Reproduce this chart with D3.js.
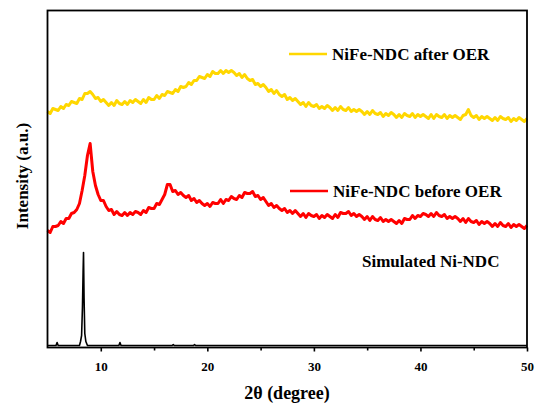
<!DOCTYPE html>
<html>
<head>
<meta charset="utf-8">
<script src="https://cdn.jsdelivr.net/npm/d3@7"></script>
<style>
  body { margin: 0; background: #fff; }
</style>
</head>
<body>
<div id="chart"></div>
<script>
// 2-theta grid of the measured patterns (degrees, 0.25 step)
var twoTheta = d3.range(0, 181).map(function (i) { return 5 + i * 0.25; });

// NiFe-NDC after OER (a.u.)
var afterOER = [236, 234, 239, 238, 237, 241, 239, 243, 242, 246,
    245, 244, 249, 248, 254, 254, 256, 253, 249, 250,
    246, 248, 245, 242, 245, 242, 247, 244, 243, 246,
    243, 247, 245, 248, 246, 244, 248, 245, 250, 248,
    248, 252, 249, 253, 252, 256, 255, 254, 258, 256,
    261, 260, 261, 265, 263, 267, 267, 271, 270, 269,
    273, 271, 276, 274, 274, 277, 274, 277, 275, 277,
    275, 272, 274, 270, 273, 269, 267, 268, 263, 264,
    261, 263, 260, 256, 258, 254, 257, 253, 251, 253,
    248, 250, 247, 249, 246, 243, 245, 241, 245, 242,
    241, 243, 239, 241, 239, 242, 240, 237, 240, 237,
    241, 238, 237, 240, 236, 238, 236, 238, 236, 233,
    236, 233, 237, 234, 233, 235, 231, 234, 232, 235,
    233, 230, 233, 230, 234, 232, 231, 234, 230, 233,
    231, 233, 231, 229, 233, 229, 233, 231, 230, 233,
    229, 232, 230, 232, 230, 228, 232, 233, 238, 232,
    230, 232, 228, 231, 229, 231, 229, 227, 230, 227,
    231, 229, 228, 230, 226, 229, 227, 230, 228, 226, 229];

// NiFe-NDC before OER (a.u.)
var beforeOER = [117, 115, 121, 121, 122, 126, 124, 129, 129, 134,
    135, 138, 144, 157, 172, 192, 204, 176, 162, 153,
    147, 147, 141, 137, 138, 133, 136, 133, 132, 135,
    132, 135, 133, 136, 135, 133, 137, 135, 140, 139,
    139, 144, 143, 148, 153, 163, 163, 156, 157, 153,
    155, 152, 150, 152, 147, 149, 145, 147, 144, 142,
    144, 141, 145, 144, 144, 148, 144, 148, 147, 151,
    149, 148, 152, 150, 155, 154, 154, 156, 151, 152,
    148, 150, 146, 142, 144, 140, 142, 139, 137, 139,
    135, 137, 134, 137, 134, 131, 134, 130, 134, 132,
    131, 133, 129, 132, 130, 133, 131, 129, 133, 130,
    135, 134, 134, 136, 132, 134, 131, 133, 131, 128,
    131, 127, 131, 128, 127, 130, 126, 128, 126, 128,
    126, 124, 127, 124, 129, 128, 128, 132, 129, 132,
    131, 134, 133, 131, 134, 131, 135, 132, 131, 133,
    129, 131, 129, 131, 129, 126, 129, 125, 129, 126,
    125, 127, 123, 126, 124, 126, 124, 121, 124, 121,
    125, 122, 121, 124, 120, 123, 121, 123, 121, 119, 122];

// Simulated Ni-NDC pattern
var simTheta = [5, 5.8, 5.9, 6.0, 8.0, 8.1, 8.2, 8.28, 8.34, 8.38, 8.43, 8.5, 8.6, 8.75,
    11.7, 11.8, 11.9, 16.7, 16.8, 16.9, 18.7, 18.8, 18.9, 50];
var simInt = [2, 2, 5, 2, 2, 6, 12, 40, 75, 95, 50, 14, 6, 2,
    2, 5, 2, 2, 3, 2, 2, 3, 2, 2];

var xTicks = [10, 20, 30, 40, 50];
var xMinor = [15, 25, 35, 45];

var serif = "'Liberation Serif', 'Times New Roman', serif";
var width = 535, height = 405;
var plotL = 47.5, plotR = 527, plotT = 10.5, plotB = 347.5;

var svg = d3.select("#chart").append("svg")
    .attr("width", width)
    .attr("height", height);

var x = d3.scaleLinear().domain([5, 50]).range([plotL, plotR]);
var y = d3.scaleLinear().domain([0, 337]).range([plotB, plotT]);

var line = d3.line()
    .x(function (d) { return x(d[0]); })
    .y(function (d) { return y(d[1]); });

var series = [
    { name: "NiFe-NDC after OER", vals: d3.zip(twoTheta, afterOER), color: "#FFD700", w: 3 },
    { name: "NiFe-NDC before OER", vals: d3.zip(twoTheta, beforeOER), color: "#FF0000", w: 3 },
    { name: "Simulated Ni-NDC", vals: d3.zip(simTheta, simInt), color: "#000000", w: 1.6 }
];

svg.selectAll("path.trace")
    .data(series)
    .enter().append("path")
    .attr("class", "trace")
    .attr("d", function (d) { return line(d.vals); })
    .attr("fill", "none")
    .attr("stroke", function (d) { return d.color; })
    .attr("stroke-width", function (d) { return d.w; })
    .attr("stroke-linejoin", "round");

// frame
svg.append("rect")
    .attr("x", plotL).attr("y", plotT)
    .attr("width", plotR - plotL).attr("height", plotB - plotT)
    .attr("fill", "none")
    .attr("stroke", "#000")
    .attr("stroke-width", 1.8);

// x axis
var xAxis = svg.append("g")
    .attr("transform", "translate(0," + plotB + ")")
    .call(d3.axisBottom(x).tickValues(xTicks).tickSize(4).tickPadding(10));
xAxis.select(".domain").remove();
xAxis.attr("font-family", serif).attr("font-size", 13).attr("font-weight", "bold");
xAxis.selectAll("line").attr("stroke-width", 1.6);

svg.append("g")
    .attr("transform", "translate(0," + plotB + ")")
    .call(d3.axisBottom(x).tickValues(xMinor).tickSize(3).tickFormat(""))
    .call(function (g) { g.select(".domain").remove(); })
    .selectAll("line").attr("stroke-width", 1.6);

// axis titles
svg.append("text")
    .attr("x", 287).attr("y", 399)
    .attr("text-anchor", "middle")
    .attr("font-family", serif)
    .attr("font-weight", "bold")
    .attr("font-size", 18)
    .text("2θ (degree)");

svg.append("text")
    .attr("transform", "translate(28,176) rotate(-90)")
    .attr("text-anchor", "middle")
    .attr("font-family", serif)
    .attr("font-weight", "bold")
    .attr("font-size", 17)
    .text("Intensity (a.u.)");

// labels
var labels = [
    { text: "NiFe-NDC after OER", lx: 289, tx: 332, ly: 54, ty: 60, color: "#FFD700" },
    { text: "NiFe-NDC before OER", lx: 290, tx: 333, ly: 191, ty: 197, color: "#FF0000" },
    { text: "Simulated Ni-NDC", lx: null, tx: 362, ly: 0, ty: 267, color: null }
];

labels.forEach(function (l) {
    if (l.lx !== null) {
        svg.append("line")
            .attr("x1", l.lx).attr("x2", l.lx + 38)
            .attr("y1", l.ly).attr("y2", l.ly)
            .attr("stroke", l.color)
            .attr("stroke-width", 2.5);
    }
    svg.append("text")
        .attr("x", l.tx).attr("y", l.ty)
        .attr("font-family", serif)
        .attr("font-weight", "bold")
        .attr("font-size", 17)
        .text(l.text);
});
</script>
</body>
</html>
